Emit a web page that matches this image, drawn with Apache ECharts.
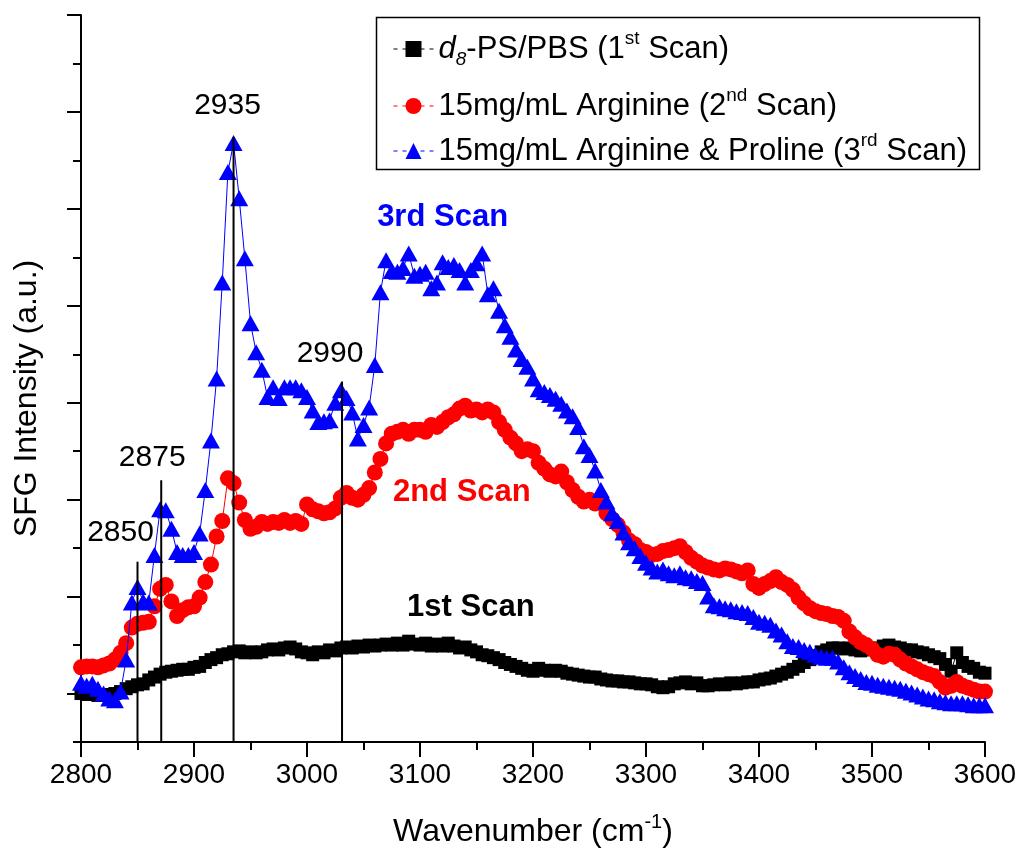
<!DOCTYPE html>
<html>
<head>
<meta charset="utf-8">
<title>SFG spectra</title>
<script src="https://cdn.jsdelivr.net/npm/echarts@6/dist/echarts.min.js"></script>
<style>
  html, body { margin: 0; padding: 0; background: #fff; }
  #chart { width: 1020px; height: 858px; }
</style>
</head>
<body>
<div id="chart"></div>
<script>
// wavenumber grid of the scans (cm-1), one point every 5
const wavenumbers = []
for (let w = 2800; w <= 3600; w += 5) wavenumbers.push(w)

// 1st scan: d8-PS/PBS
const scan1 = [
  0.50, 0.49, 0.50, 0.48, 0.49, 0.48, 0.50, 0.52, 0.55, 0.57,
  0.59, 0.60, 0.64, 0.67, 0.70, 0.72, 0.73, 0.74, 0.75, 0.75,
  0.77, 0.78, 0.82, 0.85, 0.87, 0.90, 0.91, 0.93, 0.94, 0.92,
  0.93, 0.92, 0.93, 0.95, 0.96, 0.95, 0.97, 0.98, 0.96, 0.93,
  0.92, 0.90, 0.93, 0.92, 0.95, 0.94, 0.97, 0.98, 0.97, 0.99,
  0.98, 1.00, 0.99, 1.00, 1.01, 1.00, 1.02, 1.00, 1.04, 1.01,
  1.00, 1.02, 0.99, 1.01, 0.99, 1.02, 0.99, 0.97, 0.98, 0.95,
  0.93, 0.90, 0.89, 0.87, 0.85, 0.82, 0.80, 0.78, 0.76, 0.74,
  0.73, 0.76, 0.74, 0.73, 0.74, 0.73, 0.71, 0.70, 0.69, 0.68,
  0.67, 0.67, 0.65, 0.64, 0.63, 0.63, 0.62, 0.62, 0.61, 0.60,
  0.60, 0.59, 0.57, 0.56, 0.57, 0.60, 0.61, 0.62, 0.60, 0.61,
  0.58, 0.58, 0.59, 0.60, 0.59, 0.61, 0.60, 0.61, 0.62, 0.62,
  0.64, 0.65, 0.66, 0.68, 0.70, 0.72, 0.75, 0.78, 0.82, 0.85,
  0.89, 0.93, 0.95, 0.97, 0.97, 0.96, 0.97, 0.95, 0.94, 0.96,
  0.95, 0.97, 0.99, 1.00, 0.98, 0.97, 0.95, 0.95, 0.93, 0.92,
  0.90, 0.88, 0.86, 0.80, 0.73, 0.92, 0.82, 0.78, 0.76, 0.72,
  0.71
]

// 2nd scan: 15mg/mL arginine
const scan2 = [
  0.77, 0.78, 0.78, 0.77, 0.79, 0.81, 0.85, 0.92, 1.02, 1.18,
  1.22, 1.23, 1.24, 1.40, 1.58, 1.62, 1.45, 1.30, 1.36, 1.39,
  1.40, 1.49, 1.65, 1.83, 2.12, 2.28, 2.72, 2.67, 2.47, 2.29,
  2.20, 2.22, 2.27, 2.25, 2.27, 2.26, 2.29, 2.26, 2.28, 2.25,
  2.45, 2.40, 2.38, 2.36, 2.37, 2.41, 2.52, 2.57, 2.52, 2.50,
  2.55, 2.62, 2.78, 2.92, 3.08, 3.18, 3.20, 3.22, 3.18, 3.22,
  3.22, 3.20, 3.27, 3.25, 3.30, 3.35, 3.38, 3.44, 3.47, 3.42,
  3.43, 3.40, 3.43, 3.40, 3.30, 3.22, 3.14, 3.08, 3.00, 3.02,
  3.00, 2.88, 2.82, 2.76, 2.74, 2.79, 2.68, 2.60, 2.53, 2.48,
  2.50, 2.46, 2.47, 2.36, 2.30, 2.24, 2.16, 2.08, 2.04, 1.98,
  1.96, 1.93, 1.94, 1.97, 1.98, 2.00, 2.02, 1.96, 1.90, 1.86,
  1.82, 1.80, 1.78, 1.77, 1.79, 1.78, 1.76, 1.74, 1.77, 1.63,
  1.59, 1.63, 1.66, 1.70, 1.65, 1.62, 1.57, 1.49, 1.43, 1.38,
  1.35, 1.33, 1.32, 1.30, 1.29, 1.25, 1.14, 1.08, 1.03, 1.00,
  0.96, 0.90, 0.88, 0.91, 0.90, 0.85, 0.81, 0.78, 0.75, 0.72,
  0.70, 0.68, 0.62, 0.56, 0.58, 0.62, 0.58, 0.56, 0.54, 0.52,
  0.52
]

// 3rd scan: 15mg/mL arginine & proline
const scan3 = [
  0.61, 0.58, 0.60, 0.55, 0.50, 0.45, 0.43, 0.52, 0.85, 1.44,
  1.60, 1.45, 1.44, 1.93, 2.40, 2.39, 2.20, 1.96, 1.93, 1.93,
  1.96, 2.15, 2.60, 3.11, 3.75, 4.74, 5.88, 6.18, 5.61, 4.99,
  4.32, 4.02, 3.84, 3.56, 3.66, 3.55, 3.66, 3.66, 3.66, 3.63,
  3.56, 3.42, 3.30, 3.31, 3.32, 3.50, 3.63, 3.55, 3.40, 3.13,
  3.27, 3.45, 3.89, 4.64, 4.97, 4.86, 4.85, 4.89, 5.04, 4.81,
  4.83, 4.85, 4.68, 4.74, 4.95, 4.90, 4.92, 4.87, 4.74, 4.87,
  4.94, 5.04, 4.62, 4.68, 4.45, 4.30, 4.18, 4.05, 3.95, 3.87,
  3.75, 3.64, 3.61, 3.58, 3.54, 3.49, 3.42, 3.36, 3.25, 3.05,
  2.96, 2.80, 2.60, 2.48, 2.36, 2.28, 2.16, 2.06, 2.00, 1.92,
  1.85, 1.80, 1.76, 1.78, 1.74, 1.72, 1.74, 1.70, 1.69, 1.66,
  1.64, 1.50, 1.41, 1.40, 1.38, 1.37, 1.35, 1.34, 1.33, 1.29,
  1.24, 1.23, 1.21, 1.15, 1.11, 1.04, 0.99, 0.98, 0.95, 0.93,
  0.90, 0.88, 0.87, 0.87, 0.83, 0.77, 0.72, 0.68, 0.65, 0.62,
  0.61, 0.59, 0.58, 0.57, 0.56, 0.55, 0.53, 0.51, 0.49, 0.47,
  0.45, 0.44, 0.42, 0.41, 0.40, 0.40, 0.40, 0.39, 0.38, 0.38,
  0.38
]

const seriesNames = [
  'd8-PS/PBS (1st Scan)',
  '15mg/mL Arginine (2nd Scan)',
  '15mg/mL Arginine & Proline (3rd Scan)'
]

// peak marker lines (drawn position, height) and their labels
const peakPos = [2850, 2871, 2935, 3031]
const peakTop = [1.86, 2.70, 6.24, 3.72]
const peakText = ['2850', '2875', '2935', '2990']

// in-plot scan labels
const scanText = ['1st Scan', '2nd Scan', '3rd Scan']
const scanAt = [[3145, 1.39], [3137, 2.57], [3120, 5.41]]

const xTicks = [2800, 2900, 3000, 3100, 3200, 3300, 3400, 3500, 3600]
const yMajor = [0.5, 1.5, 2.5, 3.5, 4.5, 5.5, 6.5, 7.5]
const yMinor = [0, 1, 2, 3, 4, 5, 6, 7]

// ---- styling ----
const FONT = 'Liberation Sans, Arial, sans-serif'
const colors = ['#000000', '#ff0000', '#0000ff']
const symbols = ['rect', 'circle', 'triangle']
const symbolSizes = [13, 16, [18, 16]]
const peakLabelShift = [[-17, -29], [-9, -23], [-6, -31], [-12, -28]]
const legendTops = [29, 86, 131]

const legendRichText = {
  'd8-PS/PBS (1st Scan)': '{i|d}{sub|8}{n|-PS/PBS (1}{sup|st}{n| Scan)}',
  '15mg/mL Arginine (2nd Scan)': '{n|15mg/mL Arginine (2}{sup|nd}{n| Scan)}',
  '15mg/mL Arginine & Proline (3rd Scan)': '{n|15mg/mL Arginine & Proline (3}{sup|rd}{n| Scan)}'
}
const rich = {
  n: { fontFamily: FONT, fontSize: 31, lineHeight: 40, color: '#000' },
  i: { fontFamily: FONT, fontSize: 31, lineHeight: 40, fontStyle: 'italic', color: '#000' },
  sup: { fontFamily: FONT, fontSize: 19, lineHeight: 19, verticalAlign: 'top', color: '#000' },
  sub: { fontFamily: FONT, fontSize: 19, lineHeight: 8, verticalAlign: 'bottom', fontStyle: 'italic', color: '#000' }
}

const chart = echarts.init(document.getElementById('chart'), null, { renderer: 'canvas' })

const dataSeries = [scan1, scan2, scan3].map((vals, i) => ({
  name: seriesNames[i],
  type: 'line',
  data: vals.map((v, k) => [wavenumbers[k], v]),
  symbol: symbols[i],
  symbolSize: symbolSizes[i],
  color: colors[i],
  itemStyle: { color: colors[i], opacity: 1 },
  lineStyle: { color: colors[i], width: 1 },
  z: 2 + i
}))

const peakSeries = peakPos.map((p, i) => ({
  type: 'line',
  data: [[p, 0], [p, peakTop[i]]],
  showSymbol: false,
  symbol: 'none',
  lineStyle: { color: '#000', width: 2 },
  z: 6,
  silent: true
}))

const peakLabelSeries = {
  type: 'scatter',
  symbolSize: 0,
  itemStyle: { opacity: 1 },
  data: peakPos.map((p, i) => ({
    value: [p, peakTop[i]],
    label: { offset: peakLabelShift[i], formatter: peakText[i] }
  })),
  label: {
    show: true, position: 'inside', opacity: 1,
    fontFamily: FONT, fontSize: 30, color: '#000', textBorderWidth: 0
  },
  z: 7,
  silent: true
}

const scanLabelSeries = {
  type: 'scatter',
  symbolSize: 0,
  itemStyle: { opacity: 1 },
  data: scanAt.map((p, i) => ({
    value: p,
    label: { formatter: scanText[i], color: colors[i] }
  })),
  label: {
    show: true, position: 'inside', opacity: 1, textBorderWidth: 0,
    fontFamily: FONT, fontSize: 31, fontWeight: 'bold'
  },
  z: 7,
  silent: true
}

const option = {
  animation: false,
  backgroundColor: '#fff',
  grid: { left: 81, right: 35, top: 15, bottom: 116, containLabel: false },
  legend: seriesNames.map((name, i) => ({
    data: [name],
    orient: 'vertical',
    left: 393,
    top: legendTops[i],
    padding: 0,
    itemWidth: 40,
    itemHeight: 20,
    selectedMode: false,
    lineStyle: { type: [4, 5], width: 1 },
    formatter: n => legendRichText[n],
    textStyle: { rich }
  })),
  graphic: [{
    type: 'rect',
    left: 374, top: 15,
    shape: { width: 603, height: 152 },
    style: { fill: null, stroke: '#000', lineWidth: 1.5 },
    silent: true
  }],
  xAxis: {
    type: 'value',
    min: 2800, max: 3600, interval: 100,
    name: '{n|Wavenumber (cm}{sup|-1}{n|)}',
    nameLocation: 'middle',
    nameGap: 70,
    nameTextStyle: {
      rich: {
        n: { fontFamily: FONT, fontSize: 32, lineHeight: 40, color: '#000' },
        sup: { fontFamily: FONT, fontSize: 20, lineHeight: 20, verticalAlign: 'top', color: '#000' }
      }
    },
    axisLine: { lineStyle: { color: '#000', width: 2 } },
    axisTick: { length: 15, lineStyle: { color: '#000', width: 2 } },
    minorTick: { show: true, splitNumber: 2, length: 8, lineStyle: { color: '#000', width: 2 } },
    axisLabel: {
      fontFamily: FONT, fontSize: 28, color: '#000', margin: 19,
      customValues: xTicks,
      formatter: v => String(v)
    },
    splitLine: { show: false },
    minorSplitLine: { show: false }
  },
  yAxis: [{
    type: 'value',
    min: 0, max: 7.5,
    position: 'left',
    name: 'SFG Intensity (a.u.)',
    nameLocation: 'middle',
    nameGap: 38,
    nameTextStyle: { fontFamily: FONT, fontSize: 32, color: '#000', padding: [0, 40, 0, 0] },
    axisLine: { show: true, lineStyle: { color: '#000', width: 2 } },
    axisTick: { show: true, length: 14, lineStyle: { color: '#000', width: 2 }, customValues: yMajor },
    axisLabel: { show: false },
    splitLine: { show: false }
  }, {
    type: 'value',
    min: 0, max: 7.5,
    position: 'left',
    axisLine: { show: false },
    axisTick: { show: true, length: 8, lineStyle: { color: '#000', width: 2 }, customValues: yMinor },
    axisLabel: { show: false },
    splitLine: { show: false }
  }],
  series: dataSeries.concat(peakSeries, [peakLabelSeries, scanLabelSeries])
}

chart.setOption(option)
window.addEventListener('resize', function () { chart.resize() })
</script>
</body>
</html>
